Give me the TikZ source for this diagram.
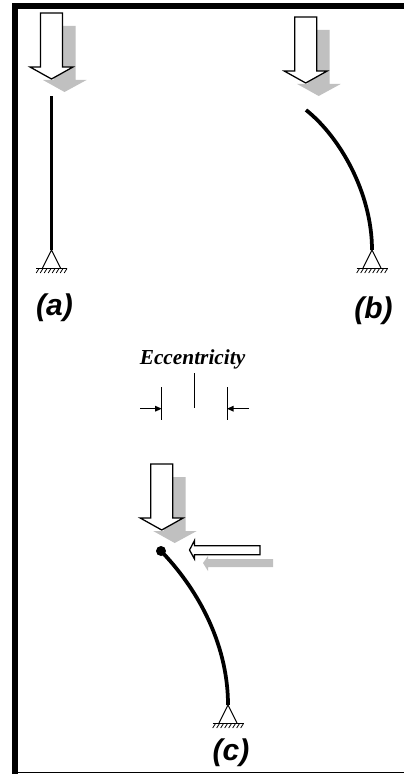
\documentclass[tikz,border=0pt]{standalone}
\usepackage{fontspec}
\setmainfont{Liberation Serif}
\setsansfont{Liberation Sans}
\definecolor{lightgrayfill}{RGB}{192,192,192}
\tikzset{
  whitearrow/.style={draw=black,fill=white,line width=0.95pt,line join=miter},
  grayarrow/.style={fill=lightgrayfill,draw=none},
  columnline/.style={line width=2.8pt,black},
  thinline/.style={line width=0.75pt,black},
  caption/.style={font=\sffamily\bfseries\itshape\fontsize{22.5pt}{25pt}\selectfont,inner sep=0pt},
  ecc/.style={font=\rmfamily\bfseries\itshape\fontsize{16pt}{18pt}\selectfont,inner sep=0pt},
  pics/downarrow/.style={code={
    \fill[grayarrow] (2,13) -- (24,13) -- (24,67) -- (35,67) -- (13,79) -- (-8.5,67) -- (2,67) -- cycle;
    \draw[whitearrow] (-11,0) -- (11,0) -- (11,54) -- (21.5,54) -- (0,66) -- (-21.5,54) -- (-11,54) -- cycle;
  }},
  pics/support/.style={code={
    \draw[line width=0.8pt] (-9,18) -- (0,0) -- (9,18);
    \draw[line width=0.9pt] (-15.5,18.2) -- (15.5,18.2);
    \foreach \i in {0,...,7} \draw[line width=0.6pt] (-12.5+\i*4,18.5) -- ++(-2.8,4.5);
  }}
}
\begin{document}
\begin{tikzpicture}[x=0.75pt,y=-0.75pt]
\useasboundingbox (0,0) rectangle (404,774);
\fill[white] (0,0) rectangle (404,774);
% frame
\fill[black] (12,3) rectangle (404,9);
\fill[black] (12,3) rectangle (18,774);
\fill[black] (12,771.5) rectangle (404,773);
% (a)
\coordinate (atop) at (51.5,96);
\coordinate (abase) at (51.5,250);
\pic at (51.5,13) {downarrow};
\draw[columnline] (atop) -- (abase);
\pic at (abase) {support};
\node[caption] (la) at (54.5,308) {(a)};
% (b)
\coordinate (btop) at (306,110);
\coordinate (bbase) at (372,250);
\pic at (305.7,17) {downarrow};
\draw[columnline] (btop) .. controls (339,136) and (372,192) .. (bbase);
\pic at (bbase) {support};
\node[caption] (lb) at (373.5,311) {(b)};
% eccentricity
\node[ecc] (ecc) at (192.5,359) {Eccentricity};
\coordinate (l1) at (161.7,387); \coordinate (l2) at (161.7,420);
\coordinate (m1) at (194,373); \coordinate (m2) at (194,408);
\coordinate (r1) at (227,387); \coordinate (r2) at (227,420);
\coordinate (al) at (140,408.7); \coordinate (ar) at (249,408.7);
\draw[thinline] (l1) -- (l2);
\draw[thinline] (m1) -- (m2);
\draw[thinline] (r1) -- (r2);
\draw[thinline] (al) -- (157,408.7);
\fill (161.7,408.7) -- (155,405.7) -- (155,411.7) -- cycle;
\draw[thinline] (ar) -- (232,408.7);
\fill (227,408.7) -- (233.7,405.7) -- (233.7,411.7) -- cycle;
% (c)
\coordinate (ctop) at (161,551);
\coordinate (cbase) at (228,705);
\pic at (161.7,464) {downarrow};
\fill[grayarrow] (273,559) -- (208,559) -- (208,556) -- (203,563) -- (208,571) -- (208,567) -- (273,567) -- cycle;
\draw[whitearrow] (260,545.7) -- (194.5,545.7) -- (194.5,540.5) -- (189.5,550) -- (194.5,559) -- (194.5,554.7) -- (260,554.7) -- cycle;
\draw[columnline] (ctop) .. controls (194,585) and (228,640) .. (cbase);
\fill (ctop) circle (5);
\pic at (cbase) {support};
\node[caption] (lc) at (231,753) {(c)};
\end{tikzpicture}
\end{document}
